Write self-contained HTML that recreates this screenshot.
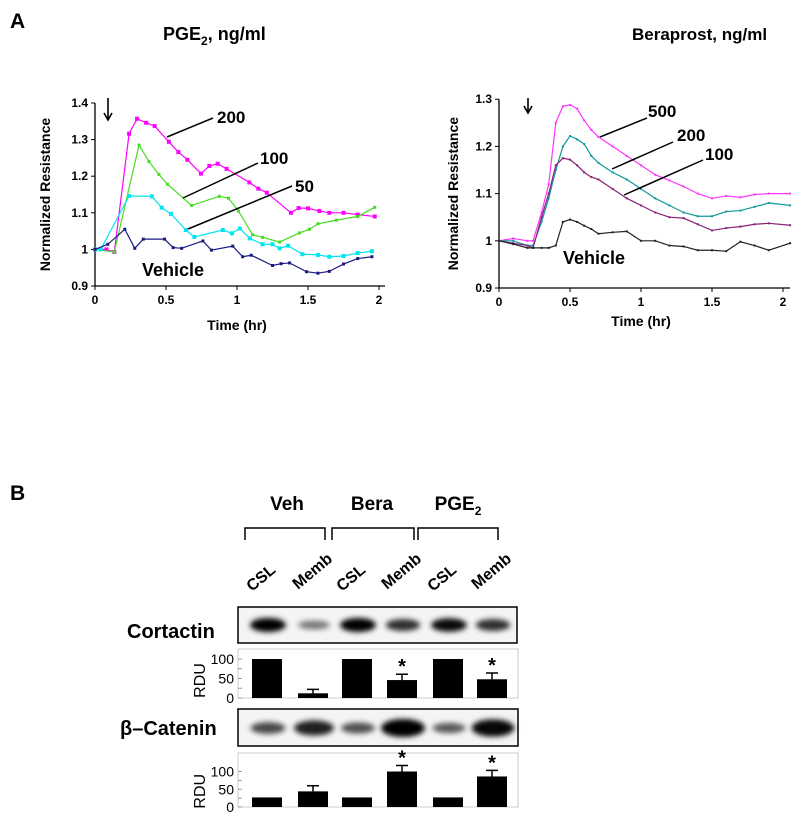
<!DOCTYPE html>
<html><head><meta charset="utf-8"><style>
html,body{margin:0;padding:0;background:#fff;}
svg{display:block;font-family:"Liberation Sans",Arial,sans-serif;font-weight:bold;}
</style></head><body>
<svg id="fig" width="800" height="818" viewBox="0 0 800 818">
<defs><filter id="blur" x="-50%" y="-100%" width="200%" height="300%"><feGaussianBlur stdDeviation="2.6"/></filter></defs>
<text x="10" y="28" font-size="21">A</text>
<text x="163" y="40" font-size="18">PGE<tspan font-size="12" dy="5">2</tspan><tspan dy="-5">, ng/ml</tspan></text>
<text x="632" y="40" font-size="17">Beraprost, ng/ml</text>
<g id="left"></g>
<g id="right"></g>
<g id="panelB">
<text x="10" y="500" font-size="21">B</text>
<text x="287" y="510" font-size="19" text-anchor="middle">Veh</text>
<text x="372" y="510" font-size="19" text-anchor="middle">Bera</text>
<text x="458" y="510" font-size="19" text-anchor="middle">PGE<tspan font-size="12" dy="5">2</tspan></text>
<path d="M245,540V528H325V540M332,540V528H414V540M418,540V528H498V540" fill="none" stroke="#000" stroke-width="1.5"/>
<rect x="238" y="607" width="279" height="36" fill="#f4f4f4" stroke="#000" stroke-width="1.5"/>
<text x="127" y="638" font-size="20">Cortactin</text>
<rect x="238" y="709" width="280" height="37" fill="#f4f4f4" stroke="#000" stroke-width="1.5"/>
<text x="120" y="735" font-size="20">β–Catenin</text>
</g>
</svg>
<script>
// ---------- Left chart data (PGE2) ----------
const pgeT200=[0,0.08,0.136,0.24,0.296,0.36,0.42,0.52,0.587,0.65,0.746,0.805,0.864,0.927,1.087,1.15,1.21,1.38,1.434,1.5,1.58,1.65,1.75,1.85,1.97];
const pgeV200=[1.0,1.0,0.993,1.316,1.357,1.346,1.337,1.294,1.266,1.245,1.207,1.228,1.234,1.22,1.183,1.166,1.155,1.10,1.113,1.112,1.105,1.10,1.10,1.095,1.09];
const pgeT100=[0,0.136,0.31,0.38,0.45,0.51,0.68,0.875,0.94,1.01,1.11,1.18,1.3,1.44,1.51,1.57,1.7,1.85,1.97];
const pgeV100=[1.0,0.993,1.285,1.24,1.205,1.178,1.12,1.145,1.14,1.105,1.04,1.033,1.02,1.045,1.055,1.07,1.08,1.09,1.115];
const pgeT50=[0,0.04,0.24,0.4,0.47,0.535,0.64,0.7,0.9,0.965,1.02,1.09,1.18,1.25,1.3,1.36,1.46,1.57,1.65,1.75,1.85,1.95];
const pgeV50=[1.0,1.0,1.146,1.145,1.114,1.097,1.053,1.034,1.053,1.044,1.057,1.03,1.014,1.014,1.003,1.01,0.987,0.985,0.98,0.982,0.99,0.995];
const pgeTveh=[0,0.09,0.21,0.28,0.34,0.49,0.55,0.61,0.76,0.82,0.97,1.04,1.1,1.25,1.31,1.37,1.49,1.57,1.65,1.75,1.85,1.95];
const pgeVveh=[1.0,1.014,1.055,1.003,1.028,1.028,1.005,1.003,1.023,0.998,1.009,0.98,0.984,0.956,0.961,0.963,0.939,0.935,0.94,0.96,0.975,0.98];
const pgeYTicks=[0.9,1,1.1,1.2,1.3,1.4];
const pgeXTicks=[0,0.5,1,1.5,2];
// ---------- Right chart data (Beraprost) ----------
const beraT=[0,0.1,0.2,0.24,0.3,0.35,0.4,0.45,0.5,0.55,0.6,0.65,0.7,0.8,0.9,1.0,1.1,1.2,1.3,1.4,1.5,1.6,1.7,1.8,1.9,2.05];
const bera500=[1.0,1.005,1.0,1.0,1.06,1.12,1.25,1.285,1.288,1.28,1.255,1.235,1.22,1.2,1.18,1.16,1.14,1.128,1.115,1.1,1.09,1.095,1.092,1.098,1.1,1.1];
const bera200=[1.0,1.0,0.99,0.99,1.04,1.09,1.15,1.2,1.222,1.215,1.205,1.18,1.165,1.145,1.13,1.11,1.09,1.075,1.06,1.052,1.052,1.062,1.064,1.072,1.08,1.075];
const bera100=[1.0,0.995,0.99,0.985,1.05,1.10,1.16,1.175,1.172,1.16,1.145,1.135,1.13,1.11,1.09,1.075,1.06,1.05,1.048,1.035,1.022,1.027,1.03,1.035,1.037,1.033];
const beraVeh=[1.0,0.993,0.985,0.985,0.985,0.985,0.99,1.04,1.045,1.04,1.032,1.025,1.015,1.018,1.02,1.0,1.0,0.99,0.988,0.98,0.98,0.978,0.998,0.99,0.98,0.995];
const beraYTicks=[0.9,1,1.1,1.2,1.3];
const beraXTicks=[0,0.5,1,1.5,2];
// ---------- Panel B data ----------
const lanes=["CSL","Memb","CSL","Memb","CSL","Memb"];
const cortRDU=[100,12,100,46,100,48];
const cortErr=[0,10,0,15,0,16];
const cortSig=[false,false,false,true,false,true];
const catRDU=[27,44,27,100,27,86];
const catErr=[0,16,0,17,0,17];
const catSig=[false,false,false,true,false,true];
const cortBand=[1.0,0.35,1.0,0.75,0.95,0.75];
const catBand=[0.55,0.8,0.5,1.0,0.45,0.95];
const rduTicks=[0,50,100];

const NS="http://www.w3.org/2000/svg";
function mk(tag,attrs,parent){const e=document.createElementNS(NS,tag);for(const k in attrs)e.setAttribute(k,attrs[k]);parent.appendChild(e);return e;}

function lineChart(g,cfg){
  const X=t=>cfg.x0+t*cfg.px, Y=v=>cfg.y0-(v-cfg.vmin)*cfg.py;
  const ax=mk('path',{d:`M${X(0)},${Y(cfg.vmax)}V${Y(cfg.vmin)}H${cfg.xEnd}`,fill:'none',stroke:'#000','stroke-width':1.3},g);
  
  
  cfg.yt.forEach(v=>{
    mk('line',{x1:X(0)-4,x2:X(0),y1:Y(v),y2:Y(v),stroke:'#000'},g);
    const t=mk('text',{x:X(0)-7,y:Y(v)+4,'font-size':12,'text-anchor':'end'},g);
    
    
    t.textContent=String(v);
  });
  cfg.xt.forEach(v=>{
    mk('line',{x1:X(v),x2:X(v),y1:Y(cfg.vmin),y2:Y(cfg.vmin)+4,stroke:'#000'},g);
    const t=mk('text',{x:X(v),y:cfg.xLabY,'font-size':12,'text-anchor':'middle'},g);
    
    
    t.textContent=String(v);
  });
  cfg.series.forEach(s=>{
    const p=mk('polyline',{points:s.t.map((t,i)=>X(t)+','+Y(s.v[i])).join(' '),fill:'none',stroke:s.c,'stroke-width':1.2},g);
    
    
    s.t.forEach((t,i)=>{
      const m=mk('rect',{x:X(t)-s.m/2,y:Y(s.v[i])-s.m/2,width:s.m,height:s.m,fill:s.c},g);
      
      
    });
  });
  const yl=mk('text',{transform:`translate(${cfg.ylabX},${(Y(cfg.vmin)+Y(cfg.vmax))/2}) rotate(-90)`,'font-size':14,'text-anchor':'middle'},g);
  
  
  yl.textContent='Normalized Resistance';
  const xl=mk('text',{x:X(1),y:cfg.xTitY,'font-size':14,'text-anchor':'middle'},g);
  
  
  xl.textContent='Time (hr)';
  cfg.ann.forEach(a=>{
    const l=mk('line',{x1:a[0],y1:a[1],x2:a[2],y2:a[3],stroke:'#000','stroke-width':1.5},g);
    
    
    const t=mk('text',{x:a[4],y:a[5],'font-size':a[7]||17},g);
    
    
    t.textContent=a[6];
  });
  const ar=mk('path',{d:`M${cfg.arrow[0]},${cfg.arrow[1]}V${cfg.arrow[2]}M${cfg.arrow[0]-4},${cfg.arrow[2]-7}L${cfg.arrow[0]},${cfg.arrow[2]}L${cfg.arrow[0]+4},${cfg.arrow[2]-7}`,fill:'none',stroke:'#000','stroke-width':1.6},g);
  
  
}

lineChart(document.getElementById('left'),{x0:95,px:142,y0:286,vmin:0.9,vmax:1.4,py:366,xEnd:385,yt:pgeYTicks,xt:pgeXTicks,xLabY:304,xTitY:330,ylabX:50,
 series:[{n:'200',t:pgeT200,v:pgeV200,c:'#ff00ff',m:4},{n:'100',t:pgeT100,v:pgeV100,c:'#44dd22',m:3},{n:'50',t:pgeT50,v:pgeV50,c:'#00e5ee',m:4},{n:'vehicle',t:pgeTveh,v:pgeVveh,c:'#1a1a80',m:3}],
 ann:[[167,137,213,118,217,123,'200'],[183,198,258,163,260,164,'100'],[188,229,292,186,295,192,'50'],[0,0,0,0,142,276,'Vehicle',18]],
 arrow:[108,98,120]});
lineChart(document.getElementById('right'),{x0:499,px:142,y0:288,vmin:0.9,vmax:1.3,py:472,xEnd:790,yt:beraYTicks,xt:beraXTicks,xLabY:306,xTitY:326,ylabX:458,
 series:[{n:'500',t:beraT,v:bera500,c:'#ff33ff',m:2},{n:'200',t:beraT,v:bera200,c:'#119999',m:2},{n:'100',t:beraT,v:bera100,c:'#882277',m:2},{n:'vehicle',t:beraT,v:beraVeh,c:'#222',m:2}],
 ann:[[600,137,647,118,648,117,'500'],[612,169,673,142,677,141,'200'],[624,195,703,160,705,160,'100'],[0,0,0,0,563,264,'Vehicle',18]],
 arrow:[528,98,113]});

// ---------- Panel B ----------
const B=document.getElementById('panelB');
const laneX=[267,313,357,402,448,492];
lanes.forEach((n,i)=>{
  const t=mk('text',{transform:`translate(${laneX[i]-15},${n==='CSL'?592:590}) rotate(-40)`,'font-size':16},B);
  
  
  t.textContent=n;
});
cortBand.forEach((d,i)=>{
  const e=mk('ellipse',{cx:laneX[i]+1,cy:625,rx:15+d*3,ry:3+d*4,fill:`rgba(0,0,0,${0.25+d*0.75})`,filter:'url(#blur)'},B);
  
  
});
catBand.forEach((d,i)=>{
  const e=mk('ellipse',{cx:laneX[i]+1,cy:728,rx:12+d*10,ry:2+d*7,fill:`rgba(0,0,0,${0.35+d*0.65})`,filter:'url(#blur)'},B);
  
  
});
function barPanel(top,bottom,scale,vals,errs,sig,name){
  const Y=v=>bottom-v*scale;
  const box=mk('rect',{x:238,y:top,width:280,height:bottom-top,fill:'#fff',stroke:'#ccc','stroke-width':1},B);
  
  
  const ticks=[0,25,50,75,100];
  ticks.forEach(v=>mk('line',{x1:238,x2:242,y1:Y(v),y2:Y(v),stroke:'#999'},B));
  rduTicks.forEach(v=>{
    const t=mk('text',{x:234,y:Y(v)+5,'font-size':14,'font-weight':'normal','text-anchor':'end'},B);
    
    
    t.textContent=String(v);
  });
  const rl=mk('text',{transform:`translate(205,${(Y(0)+Y(100))/2+2}) rotate(-90)`,'font-size':16,'font-weight':'normal','text-anchor':'middle'},B);
  
  
  rl.textContent='RDU';
  vals.forEach((v,i)=>{
    const r=mk('rect',{x:laneX[i]-15,y:Y(v),width:30,height:v*scale,fill:'#000'},B);
    
    
    if(errs[i]>0){
      mk('path',{d:`M${laneX[i]},${Y(v)}V${Y(v+errs[i])}M${laneX[i]-6},${Y(v+errs[i])}H${laneX[i]+6}`,stroke:'#000','stroke-width':1.5,fill:'none'},B);
    }
    if(sig[i]){
      const s=mk('text',{x:laneX[i],y:Y(v+errs[i])-1,'font-size':20,'text-anchor':'middle'},B);
      
      
      s.textContent='*';
    }
  });
}
barPanel(649,698,0.39,cortRDU,cortErr,cortSig,'cortactin-rdu');
barPanel(753,807,0.355,catRDU,catErr,catSig,'catenin-rdu');
</script>
</body></html>
